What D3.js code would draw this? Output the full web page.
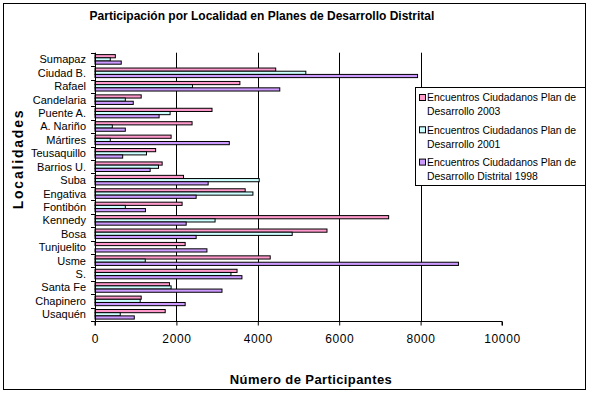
<!DOCTYPE html>
<html>
<head>
<meta charset="utf-8">
<script src="https://cdn.jsdelivr.net/npm/d3@7"></script>
<style>
    body { margin: 0; background: #fff; }
    text { font-family: Arial, "Liberation Sans", sans-serif; fill: #000; }
    .title { font-size: 12px; font-weight: bold; }
    .axisTitle { font-weight: bold; }
    .cat { font-size: 11px; }
    .num { font-size: 12px; letter-spacing: 0.6px; }
    .legendText { font-size: 10.4px; }
</style>
</head>
<body>
<script>
//categories, top to bottom as drawn
var localidades = ["Sumapaz", "Ciudad B.", "Rafael", "Candelaria", "Puente A.", "A. Nariño", "Mártires",
    "Teusaquillo", "Barrios U.", "Suba", "Engativa", "Fontibón", "Kennedy", "Bosa", "Tunjuelito",
    "Usme", "S.", "Santa Fe", "Chapinero", "Usaquén"];

//series values (participants)
var plan2003 = [500, 4440, 3560, 1135, 2875, 2385, 1870, 1490, 1650, 2175, 3690, 2140, 7215, 5700, 2215, 4305, 3490, 1830, 1135, 1725];
var plan2001 = [375, 5180, 2395, 745, 1845, 425, 375, 1265, 1560, 4035, 3880, 745, 2950, 4845, 0, 1235, 3340, 1870, 1110, 620];
var plan1998 = [645, 7925, 4540, 940, 1575, 745, 3300, 680, 1355, 2780, 2485, 1240, 2240, 2485, 2750, 8930, 3610, 3120, 2215, 965];

var seriesNames = ["Encuentros Ciudadanos Plan de Desarrollo 2003",
    "Encuentros Ciudadanos Plan de Desarrollo 2001",
    "Encuentros Ciudadanos Plan de Desarrollo Distrital 1998"];
var seriesColors = ["#ff99cc", "#ccffff", "#cc99ff"];
var xTicks = [0, 2000, 4000, 6000, 8000, 10000];

var width = 592,
    height = 394;

var svg = d3.select("body")
    .append("svg")
    .attr("width", width)
    .attr("height", height);

//outer chart border
svg.append("rect")
    .attr("x", 3.5)
    .attr("y", 3.5)
    .attr("width", 582)
    .attr("height", 386)
    .attr("fill", "#fff")
    .attr("stroke", "#000");

//scales
var x = d3.scaleLinear()
    .domain([0, 10000])
    .range([95, 502]);

var y = d3.scaleBand()
    .domain(localidades)
    .range([52.7, 321]);

var inner = d3.scaleBand()
    .domain([0, 1, 2])
    .range([0, y.bandwidth()])
    .paddingOuter(0.6);

//gridlines
svg.selectAll(".grid")
    .data(xTicks.slice(1, -1))
    .enter()
    .append("line")
    .attr("class", "grid")
    .attr("x1", function(d){ return Math.round(x(d)) + 0.5; })
    .attr("x2", function(d){ return Math.round(x(d)) + 0.5; })
    .attr("y1", 52.7)
    .attr("y2", 321)
    .attr("stroke", "#000");

//bars, one group per locality
var allSeries = [plan2003, plan2001, plan1998];
var rows = [];
localidades.forEach(function(loc, i){
    allSeries.forEach(function(s, k){
        if (s[i] > 0) rows.push({loc: loc, k: k, val: s[i]});
    });
});

svg.selectAll(".bar")
    .data(rows)
    .enter()
    .append("rect")
    .attr("class", "bar")
    .attr("x", x(0))
    .attr("y", function(d){ return y(d.loc) + inner(d.k); })
    .attr("width", function(d){ return x(d.val) - x(0); })
    .attr("height", inner.bandwidth())
    .attr("fill", function(d){ return seriesColors[d.k]; })
    .attr("stroke", "#000")
    .attr("stroke-width", 1);

//x axis
var xAxis = d3.axisBottom(x)
    .tickValues(xTicks)
    .tickSize(4)
    .tickPadding(9)
    .tickFormat(d3.format("d"));

var gx = svg.append("g")
    .attr("transform", "translate(0," + 321.5 + ")")
    .call(xAxis);
gx.select(".domain").attr("stroke", "#000").attr("d", "M" + x(0) + ",4V0H" + x(10000) + "V4");
gx.selectAll("text").attr("class", "num").attr("font-family", null).attr("font-size", null);

//y axis: ticks at category boundaries
svg.append("line")
    .attr("x1", 95.5).attr("x2", 95.5)
    .attr("y1", 52.7).attr("y2", 321.5)
    .attr("stroke", "#000");

var bounds = localidades.map(function(d){ return y(d); }).concat([y.range()[1]]);
svg.selectAll(".ytick")
    .data(bounds)
    .enter()
    .append("line")
    .attr("x1", 91).attr("x2", 95.5)
    .attr("y1", function(d){ return Math.round(d) + 0.5; })
    .attr("y2", function(d){ return Math.round(d) + 0.5; })
    .attr("stroke", "#000");

svg.selectAll(".cat")
    .data(localidades)
    .enter()
    .append("text")
    .attr("class", "cat")
    .attr("x", 86)
    .attr("y", function(d){ return y(d) + y.bandwidth() / 2; })
    .attr("dy", "0.36em")
    .attr("text-anchor", "end")
    .text(function(d){ return d; });

//titles
svg.append("text")
    .attr("class", "title")
    .attr("x", 262)
    .attr("y", 20)
    .attr("text-anchor", "middle")
    .text("Participación por Localidad en Planes de Desarrollo Distrital");

svg.append("text")
    .attr("class", "axisTitle")
    .attr("x", 311)
    .attr("y", 384)
    .attr("text-anchor", "middle")
    .style("font-size", "13px")
    .style("letter-spacing", "0.4px")
    .text("Número de Participantes");

svg.append("text")
    .attr("class", "axisTitle")
    .attr("transform", "translate(23,159) rotate(-90)")
    .attr("text-anchor", "middle")
    .style("font-size", "14px")
    .style("letter-spacing", "1.8px")
    .text("Localidades");

//legend
var legend = svg.append("g");
legend.append("rect")
    .attr("x", 415.5)
    .attr("y", 87.5)
    .attr("width", 170)
    .attr("height", 98)
    .attr("fill", "#fff")
    .attr("stroke", "#000");

var items = legend.selectAll(".item")
    .data(seriesNames)
    .enter()
    .append("g")
    .attr("transform", function(d, i){ return "translate(0," + (97.5 + i * 32.3) + ")"; });

items.append("rect")
    .attr("x", 419.5)
    .attr("y", -3)
    .attr("width", 6)
    .attr("height", 6)
    .attr("fill", function(d, i){ return seriesColors[i]; })
    .attr("stroke", "#000");

items.append("text")
    .attr("class", "legendText")
    .attr("x", 427)
    .attr("dy", "0.36em")
    .text("Encuentros Ciudadanos Plan de");

items.append("text")
    .attr("class", "legendText")
    .attr("x", 427)
    .attr("y", 14)
    .attr("dy", "0.36em")
    .text(function(d){ return d.replace("Encuentros Ciudadanos Plan de ", ""); });
</script>
</body>
</html>
